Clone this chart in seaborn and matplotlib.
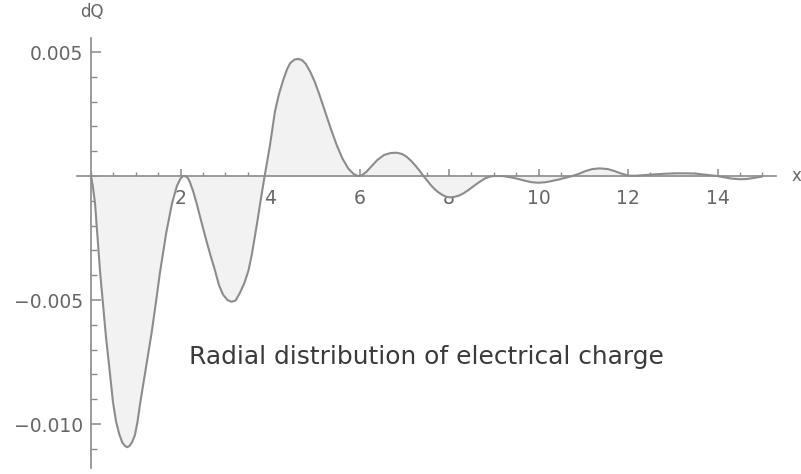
import matplotlib
matplotlib.use("Agg")
import matplotlib.pyplot as plt
import seaborn as sns
import pandas as pd
from matplotlib.ticker import MultipleLocator, FixedLocator, FixedFormatter

# Data
r_values = [0.0, 0.04, 0.09, 0.2, 0.335, 0.42, 0.49, 0.56, 0.63, 0.7, 0.76, 0.81,
            0.86, 0.92, 0.98, 1.04, 1.095, 1.22, 1.356, 1.45, 1.54, 1.68, 1.81,
            1.92, 2.0, 2.06, 2.1, 2.15, 2.2, 2.28, 2.36, 2.46, 2.57, 2.67, 2.77,
            2.86, 2.95, 3.05, 3.14, 3.23, 3.33, 3.43, 3.52, 3.6, 3.66, 3.72, 3.78,
            3.88, 4.0, 4.11, 4.2, 4.3, 4.38, 4.45, 4.55, 4.63, 4.71, 4.8, 4.9,
            5.0, 5.1, 5.23, 5.36, 5.49, 5.62, 5.75, 5.87, 5.97, 6.05, 6.15, 6.27,
            6.4, 6.55, 6.7, 6.83, 6.95, 7.05, 7.15, 7.24, 7.34, 7.43, 7.52, 7.6,
            7.68, 7.75, 7.85, 7.93, 8.02, 8.12, 8.22, 8.32, 8.43, 8.54, 8.67, 8.8,
            8.9, 9.0, 9.2, 9.4, 9.55, 9.7, 9.85, 10.0, 10.15, 10.3, 10.45, 10.6,
            10.75, 10.9, 11.05, 11.2, 11.37, 11.55, 11.7, 11.85, 12.0, 12.15,
            12.3, 12.5, 12.7, 12.9, 13.1, 13.3, 13.5, 13.7, 13.85, 14.0, 14.15,
            14.3, 14.5, 14.65, 14.8, 15.0]
dq_values = [0.0, -0.0004, -0.0011, -0.0038, -0.0065, -0.0079, -0.0091, -0.0099,
             -0.0104, -0.01075, -0.01088, -0.01093, -0.01088, -0.01072, -0.01045,
             -0.0099, -0.0092, -0.0078, -0.0063, -0.0051, -0.0039, -0.0023,
             -0.0011, -0.0004, -0.0001, 0.0, 0.0, -0.00005, -0.0002, -0.0006,
             -0.0011, -0.0018, -0.00255, -0.0032, -0.0038, -0.0044, -0.00478,
             -0.00500, -0.00507, -0.00502, -0.0047, -0.0043, -0.0038, -0.0031,
             -0.00245, -0.0018, -0.0011, 0.0, 0.00125, 0.0026, 0.0033, 0.0039,
             0.0043, 0.00455, 0.0047, 0.00472, 0.00468, 0.00452, 0.0042, 0.0038,
             0.0033, 0.0026, 0.0019, 0.00125, 0.0007, 0.0003, 0.00008, 0.0,
             0.00003, 0.00016, 0.0004, 0.00065, 0.00085, 0.00093, 0.00094,
             0.00089, 0.00078, 0.00062, 0.00044, 0.00022, 0.0, -0.0002, -0.00038,
             -0.00053, -0.00064, -0.00076, -0.00083, -0.00086, -0.00084, -0.00079,
             -0.0007, -0.00057, -0.00042, -0.00025, -0.0001, -0.00003, 0.0, 0.0,
             -0.00006, -0.00012, -0.00019, -0.00025, -0.00027, -0.00025, -0.0002,
             -0.00014, -0.00007, 0.0, 0.00009, 0.0002, 0.00028, 0.00031, 0.00028,
             0.0002, 0.0001, 0.00002, 0.00001, 0.00003, 0.00006, 0.00008, 0.0001,
             0.00011, 0.00011, 0.0001, 0.00006, 0.00003, 0.0, -0.00005, -0.0001,
             -0.00013, -0.00012, -0.00008, -0.00002]

x_major_ticks = [2, 4, 6, 8, 10, 12, 14]
x_tick_labels = ["2", "4", "6", "8", "10", "12", "14"]
y_major_ticks = [-0.010, -0.005, 0.005]
y_tick_labels = ["\u22120.010", "\u22120.005", "0.005"]

df = pd.DataFrame({"r": r_values, "dQ": dq_values})

sns.set_style("white")
plt.rcParams["font.family"] = ["DejaVu Sans"]

fig = plt.figure(figsize=(8.01, 4.74), dpi=100)
ax = fig.add_axes([77 / 801, 6 / 474, (775.7 - 77) / 801, (468 - 38) / 474])

axis_col = "#8a8a8a"
ax.fill_between(df["r"], df["dQ"], 0, color="#f2f2f2", linewidth=0, zorder=1)
sns.lineplot(data=df, x="r", y="dQ", ax=ax, color="#8c8c8c", linewidth=1.5,
             zorder=3, sort=False)

ax.set_xlim(-0.313, 15.3)
ax.set_ylim(-0.01177, 0.005565)

for side in ["top", "right"]:
    ax.spines[side].set_visible(False)
ax.spines["left"].set_position(("data", 0))
ax.spines["bottom"].set_position(("data", 0))
for side in ["left", "bottom"]:
    ax.spines[side].set_color(axis_col)
    ax.spines[side].set_linewidth(1.2)
    ax.spines[side].set_zorder(2)

ax.xaxis.set_major_locator(FixedLocator(x_major_ticks))
ax.xaxis.set_major_formatter(FixedFormatter(x_tick_labels))
ax.xaxis.set_minor_locator(MultipleLocator(0.5))
ax.yaxis.set_major_locator(FixedLocator(y_major_ticks))
ax.yaxis.set_major_formatter(FixedFormatter(y_tick_labels))
ax.yaxis.set_minor_locator(MultipleLocator(0.001))

ax.tick_params(axis="x", which="both", bottom=True, top=False)
ax.tick_params(axis="y", which="both", left=True, right=False)
ax.tick_params(axis="x", which="major", direction="in", length=5, width=1.1,
               color=axis_col, labelcolor="#666666", labelsize=13.5, pad=9)
ax.tick_params(axis="x", which="minor", direction="in", length=3, width=1.0,
               color=axis_col)
ax.tick_params(axis="y", which="major", direction="in", length=7, width=1.1,
               color=axis_col, labelcolor="#666666", labelsize=13.5, pad=6)
ax.tick_params(axis="y", which="minor", direction="in", length=4.3, width=1.0,
               color=axis_col)

ax.set_xlabel("")
ax.set_ylabel("")
ax.grid(False)

fig.text(92 / 801, 1 - 12 / 474, "dQ", ha="center", va="center",
         fontsize=12, color="#666666")
fig.text(792 / 801, 1 - 176 / 474, "x", ha="left", va="center",
         fontsize=12, color="#666666")
fig.text(189 / 801, 1 - 357 / 474, "Radial distribution of electrical charge",
         ha="left", va="center", fontsize=17.9, color="#3a3a3a")

fig.savefig("out.png", dpi=100)
